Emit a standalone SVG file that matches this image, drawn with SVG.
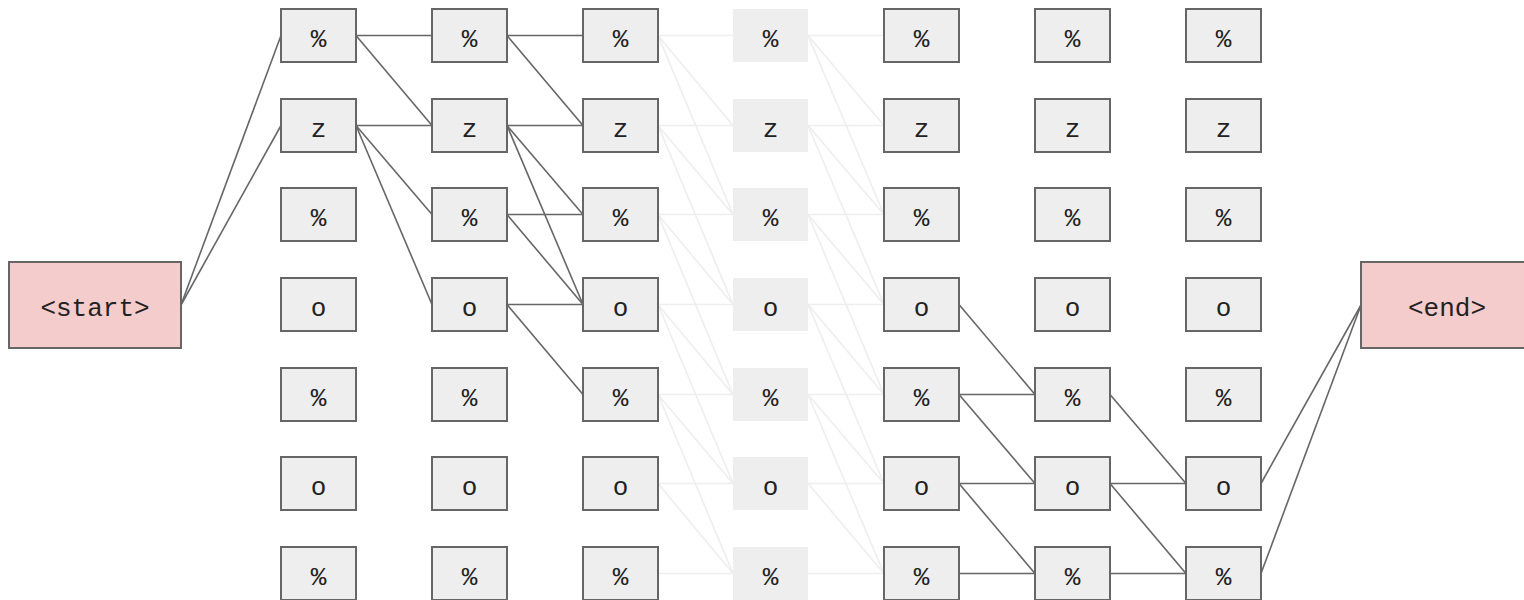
<svg xmlns="http://www.w3.org/2000/svg" width="1524" height="600" viewBox="0 0 1524 600">
<style>
.box{fill:#eeeeee;stroke:#666666;stroke-width:2}
.fade{fill:#eeeeee;stroke:none}
.term{fill:#f4cccc;stroke:#666666;stroke-width:2}
.lbl{font-family:"Liberation Mono","Courier New",monospace;font-size:26px;fill:#222222;text-anchor:middle}
.dk line{stroke:#666666;stroke-width:1.6;fill:none}
.lt line{stroke:#eeeeee;stroke-width:1.6;fill:none}
</style>
<rect width="1524" height="600" fill="#ffffff"/>
<g id="connectors">
<g class="lt">
<line x1="658" y1="35.5" x2="733" y2="35.5"/><line x1="658" y1="35.5" x2="733" y2="125.5"/><line x1="658" y1="35.5" x2="733" y2="214.5"/>
<line x1="658" y1="125.5" x2="733" y2="125.5"/><line x1="658" y1="125.5" x2="733" y2="214.5"/><line x1="658" y1="125.5" x2="733" y2="304.5"/>
<line x1="658" y1="214.5" x2="733" y2="214.5"/><line x1="658" y1="214.5" x2="733" y2="304.5"/><line x1="658" y1="214.5" x2="733" y2="394.5"/>
<line x1="658" y1="304.5" x2="733" y2="304.5"/><line x1="658" y1="304.5" x2="733" y2="394.5"/><line x1="658" y1="304.5" x2="733" y2="483.5"/>
<line x1="658" y1="394.5" x2="733" y2="394.5"/><line x1="658" y1="394.5" x2="733" y2="483.5"/><line x1="658" y1="394.5" x2="733" y2="573.5"/>
<line x1="658" y1="483.5" x2="733" y2="483.5"/><line x1="658" y1="483.5" x2="733" y2="573.5"/>
<line x1="658" y1="573.5" x2="733" y2="573.5"/>
<line x1="808" y1="35.5" x2="884" y2="35.5"/><line x1="808" y1="35.5" x2="884" y2="125.5"/><line x1="808" y1="35.5" x2="884" y2="214.5"/>
<line x1="808" y1="125.5" x2="884" y2="125.5"/><line x1="808" y1="125.5" x2="884" y2="214.5"/><line x1="808" y1="125.5" x2="884" y2="304.5"/>
<line x1="808" y1="214.5" x2="884" y2="214.5"/><line x1="808" y1="214.5" x2="884" y2="304.5"/><line x1="808" y1="214.5" x2="884" y2="394.5"/>
<line x1="808" y1="304.5" x2="884" y2="304.5"/><line x1="808" y1="304.5" x2="884" y2="394.5"/><line x1="808" y1="304.5" x2="884" y2="483.5"/>
<line x1="808" y1="394.5" x2="884" y2="394.5"/><line x1="808" y1="394.5" x2="884" y2="483.5"/><line x1="808" y1="394.5" x2="884" y2="573.5"/>
<line x1="808" y1="483.5" x2="884" y2="483.5"/><line x1="808" y1="483.5" x2="884" y2="573.5"/>
<line x1="808" y1="573.5" x2="884" y2="573.5"/>
</g>
<g class="dk">
<line x1="181" y1="305" x2="281" y2="35.5"/><line x1="181" y1="305" x2="281" y2="125.5"/>
<line x1="356" y1="35.5" x2="432" y2="35.5"/><line x1="356" y1="35.5" x2="432" y2="125.5"/>
<line x1="356" y1="125.5" x2="432" y2="125.5"/><line x1="356" y1="125.5" x2="432" y2="214.5"/><line x1="356" y1="125.5" x2="432" y2="304.5"/>
<line x1="507" y1="35.5" x2="583" y2="35.5"/><line x1="507" y1="35.5" x2="583" y2="125.5"/>
<line x1="507" y1="125.5" x2="583" y2="125.5"/><line x1="507" y1="125.5" x2="583" y2="214.5"/><line x1="507" y1="125.5" x2="583" y2="304.5"/>
<line x1="507" y1="214.5" x2="583" y2="214.5"/><line x1="507" y1="214.5" x2="583" y2="304.5"/>
<line x1="507" y1="304.5" x2="583" y2="304.5"/><line x1="507" y1="304.5" x2="583" y2="394.5"/>
<line x1="959" y1="304.5" x2="1035" y2="394.5"/>
<line x1="959" y1="394.5" x2="1035" y2="394.5"/><line x1="959" y1="394.5" x2="1035" y2="483.5"/>
<line x1="959" y1="483.5" x2="1035" y2="483.5"/><line x1="959" y1="483.5" x2="1035" y2="573.5"/>
<line x1="959" y1="573.5" x2="1035" y2="573.5"/>
<line x1="1110" y1="394.5" x2="1186" y2="483.5"/>
<line x1="1110" y1="483.5" x2="1186" y2="483.5"/><line x1="1110" y1="483.5" x2="1186" y2="573.5"/>
<line x1="1110" y1="573.5" x2="1186" y2="573.5"/>
<line x1="1261" y1="483.5" x2="1361" y2="305"/><line x1="1261" y1="573.5" x2="1361" y2="305"/>
</g>
</g>
<g id="start"><rect class="term" x="9" y="262" width="172" height="86"/><text class="lbl" x="95" y="316">&lt;start&gt;</text></g>
<g id="end"><rect class="term" x="1361" y="262" width="172" height="86"/><text class="lbl" x="1447" y="316">&lt;end&gt;</text></g>
<g id="n0_0"><rect class="box" x="281" y="9" width="75" height="53"/><text class="lbl" x="318.5" y="47">%</text></g>
<g id="n0_1"><rect class="box" x="281" y="99" width="75" height="53"/><text class="lbl" x="318.5" y="137">z</text></g>
<g id="n0_2"><rect class="box" x="281" y="188" width="75" height="53"/><text class="lbl" x="318.5" y="226">%</text></g>
<g id="n0_3"><rect class="box" x="281" y="278" width="75" height="53"/><text class="lbl" x="318.5" y="316">o</text></g>
<g id="n0_4"><rect class="box" x="281" y="368" width="75" height="53"/><text class="lbl" x="318.5" y="406">%</text></g>
<g id="n0_5"><rect class="box" x="281" y="457" width="75" height="53"/><text class="lbl" x="318.5" y="495">o</text></g>
<g id="n0_6"><rect class="box" x="281" y="547" width="75" height="53"/><text class="lbl" x="318.5" y="585">%</text></g>
<g id="n1_0"><rect class="box" x="432" y="9" width="75" height="53"/><text class="lbl" x="469.5" y="47">%</text></g>
<g id="n1_1"><rect class="box" x="432" y="99" width="75" height="53"/><text class="lbl" x="469.5" y="137">z</text></g>
<g id="n1_2"><rect class="box" x="432" y="188" width="75" height="53"/><text class="lbl" x="469.5" y="226">%</text></g>
<g id="n1_3"><rect class="box" x="432" y="278" width="75" height="53"/><text class="lbl" x="469.5" y="316">o</text></g>
<g id="n1_4"><rect class="box" x="432" y="368" width="75" height="53"/><text class="lbl" x="469.5" y="406">%</text></g>
<g id="n1_5"><rect class="box" x="432" y="457" width="75" height="53"/><text class="lbl" x="469.5" y="495">o</text></g>
<g id="n1_6"><rect class="box" x="432" y="547" width="75" height="53"/><text class="lbl" x="469.5" y="585">%</text></g>
<g id="n2_0"><rect class="box" x="583" y="9" width="75" height="53"/><text class="lbl" x="620.5" y="47">%</text></g>
<g id="n2_1"><rect class="box" x="583" y="99" width="75" height="53"/><text class="lbl" x="620.5" y="137">z</text></g>
<g id="n2_2"><rect class="box" x="583" y="188" width="75" height="53"/><text class="lbl" x="620.5" y="226">%</text></g>
<g id="n2_3"><rect class="box" x="583" y="278" width="75" height="53"/><text class="lbl" x="620.5" y="316">o</text></g>
<g id="n2_4"><rect class="box" x="583" y="368" width="75" height="53"/><text class="lbl" x="620.5" y="406">%</text></g>
<g id="n2_5"><rect class="box" x="583" y="457" width="75" height="53"/><text class="lbl" x="620.5" y="495">o</text></g>
<g id="n2_6"><rect class="box" x="583" y="547" width="75" height="53"/><text class="lbl" x="620.5" y="585">%</text></g>
<g id="n3_0"><rect class="fade" x="733" y="9" width="75" height="53"/><text class="lbl" x="770.5" y="47">%</text></g>
<g id="n3_1"><rect class="fade" x="733" y="99" width="75" height="53"/><text class="lbl" x="770.5" y="137">z</text></g>
<g id="n3_2"><rect class="fade" x="733" y="188" width="75" height="53"/><text class="lbl" x="770.5" y="226">%</text></g>
<g id="n3_3"><rect class="fade" x="733" y="278" width="75" height="53"/><text class="lbl" x="770.5" y="316">o</text></g>
<g id="n3_4"><rect class="fade" x="733" y="368" width="75" height="53"/><text class="lbl" x="770.5" y="406">%</text></g>
<g id="n3_5"><rect class="fade" x="733" y="457" width="75" height="53"/><text class="lbl" x="770.5" y="495">o</text></g>
<g id="n3_6"><rect class="fade" x="733" y="547" width="75" height="53"/><text class="lbl" x="770.5" y="585">%</text></g>
<g id="n4_0"><rect class="box" x="884" y="9" width="75" height="53"/><text class="lbl" x="921.5" y="47">%</text></g>
<g id="n4_1"><rect class="box" x="884" y="99" width="75" height="53"/><text class="lbl" x="921.5" y="137">z</text></g>
<g id="n4_2"><rect class="box" x="884" y="188" width="75" height="53"/><text class="lbl" x="921.5" y="226">%</text></g>
<g id="n4_3"><rect class="box" x="884" y="278" width="75" height="53"/><text class="lbl" x="921.5" y="316">o</text></g>
<g id="n4_4"><rect class="box" x="884" y="368" width="75" height="53"/><text class="lbl" x="921.5" y="406">%</text></g>
<g id="n4_5"><rect class="box" x="884" y="457" width="75" height="53"/><text class="lbl" x="921.5" y="495">o</text></g>
<g id="n4_6"><rect class="box" x="884" y="547" width="75" height="53"/><text class="lbl" x="921.5" y="585">%</text></g>
<g id="n5_0"><rect class="box" x="1035" y="9" width="75" height="53"/><text class="lbl" x="1072.5" y="47">%</text></g>
<g id="n5_1"><rect class="box" x="1035" y="99" width="75" height="53"/><text class="lbl" x="1072.5" y="137">z</text></g>
<g id="n5_2"><rect class="box" x="1035" y="188" width="75" height="53"/><text class="lbl" x="1072.5" y="226">%</text></g>
<g id="n5_3"><rect class="box" x="1035" y="278" width="75" height="53"/><text class="lbl" x="1072.5" y="316">o</text></g>
<g id="n5_4"><rect class="box" x="1035" y="368" width="75" height="53"/><text class="lbl" x="1072.5" y="406">%</text></g>
<g id="n5_5"><rect class="box" x="1035" y="457" width="75" height="53"/><text class="lbl" x="1072.5" y="495">o</text></g>
<g id="n5_6"><rect class="box" x="1035" y="547" width="75" height="53"/><text class="lbl" x="1072.5" y="585">%</text></g>
<g id="n6_0"><rect class="box" x="1186" y="9" width="75" height="53"/><text class="lbl" x="1223.5" y="47">%</text></g>
<g id="n6_1"><rect class="box" x="1186" y="99" width="75" height="53"/><text class="lbl" x="1223.5" y="137">z</text></g>
<g id="n6_2"><rect class="box" x="1186" y="188" width="75" height="53"/><text class="lbl" x="1223.5" y="226">%</text></g>
<g id="n6_3"><rect class="box" x="1186" y="278" width="75" height="53"/><text class="lbl" x="1223.5" y="316">o</text></g>
<g id="n6_4"><rect class="box" x="1186" y="368" width="75" height="53"/><text class="lbl" x="1223.5" y="406">%</text></g>
<g id="n6_5"><rect class="box" x="1186" y="457" width="75" height="53"/><text class="lbl" x="1223.5" y="495">o</text></g>
<g id="n6_6"><rect class="box" x="1186" y="547" width="75" height="53"/><text class="lbl" x="1223.5" y="585">%</text></g>
</svg>
